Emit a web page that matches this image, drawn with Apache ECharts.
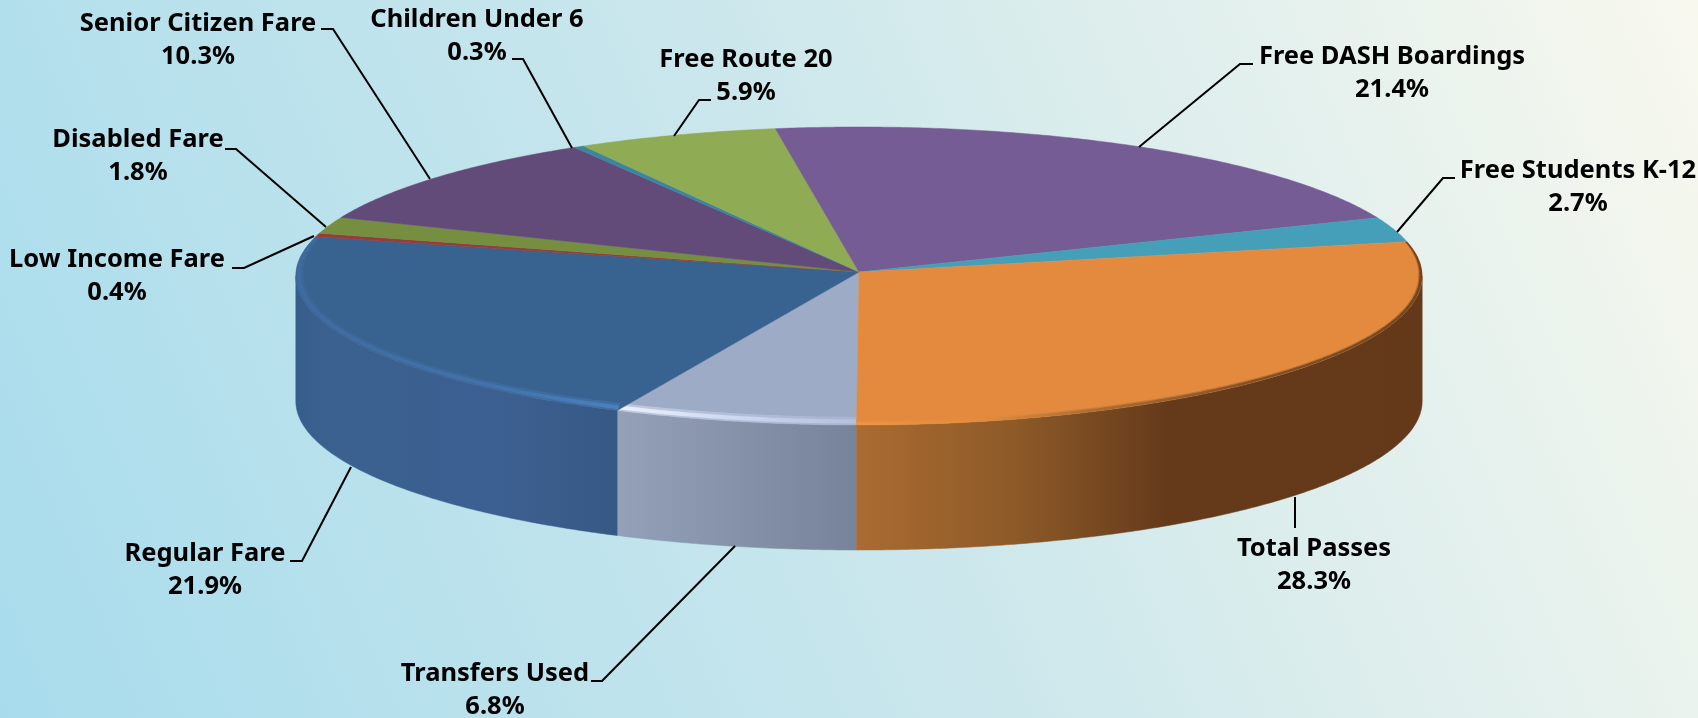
<!DOCTYPE html>
<html><head><meta charset="utf-8">
<style>html,body{margin:0;padding:0;background:#fff}#c{width:1698px;height:718px}</style>
<script src="https://cdn.jsdelivr.net/npm/echarts@6/dist/echarts.min.js"></script></head>
<body><div id="c"></div>
<script>
// ---- data, clockwise from the front of the pie ----
const categories = ['Transfers Used','Regular Fare','Low Income Fare','Disabled Fare','Senior Citizen Fare','Children Under 6','Free Route 20','Free DASH Boardings','Free Students K-12','Total Passes'];
const shares = [6.8,21.9,0.4,1.8,10.3,0.3,5.9,21.4,2.7,28.3];

// ---- styles ----
const topColors = ['#9dabc6','#38628f','#953d3a','#758e40','#624a79','#3c84a0','#8fab54','#765c94','#469fb8','#e38a3f'];
const G = (x,x2,stops)=>new echarts.graphic.LinearGradient(x,0,x2,0,stops.map(c=>({offset:c[0],color:c[1]})),true);
const sideFills = {
  0:()=>G(621,857,[[0,'#93a0b8'],[1,'#77839a']]),
  1:()=>G(296,621,[[0,'#375e8b'],[0.12,'#3a6190'],[0.68,'#3c5f90'],[1,'#355884']]),
  9:()=>G(857,1421,[[0,'#ab6b31'],[0.28,'#8d5a28'],[0.55,'#653a1b'],[1,'#63391a']])
};
const bevelFills = {
  0:()=>G(621,857,[[0,'#f0f4ff'],[0.5,'#cfdaf4'],[1,'#b4c1de']]),
  1:()=>G(296,621,[[0,'#3f6ca0'],[0.6,'#4473ae'],[1,'#4c82c2']]),
  9:()=>G(857,1421,[[0,'#f09444'],[0.22,'#e48b3f'],[0.42,'#a86c32'],[0.7,'#7d4e24'],[1,'#6b401e']])
};
// ---- layout: a tilted disc seen in slight perspective ----
const pie = {cx:859,apexY:272,rx:563,ry:148.9,persp:0.0268,depth:125,start:0.25};
const bevelOuter = {0:1.5,1:1.5,9:0};
const bevelWidth = {0:1,1:1,9:0.5};
const bevelLayers = [{o:0,i:8,op:0.4},{o:1,i:5.5,op:0.9}];
const labelPos = [[495,674],[205,554],[117,260],[138,140],[198,24],[477,20],[746,60],[1392,57],[1578,171],[1314,549]];
const labelGap = 32.5;
const leaders = [
 [[591,681],[602,681],[735,546]],
 [[290,561],[302,561],[351,467]],
 [[232,268],[244,268],[314,236]],
 [[225,149],[236,149],[326,227]],
 [[321,29],[333,29],[430,179]],
 [[512,59],[523,59],[572,148]],
 [[711,100],[699,100],[674,136]],
 [[1253,64],[1240,64],[1139,147]],
 [[1455,178],[1443,178],[1397,232]],
 [[1295,528],[1295,497]]
];
const total = shares.reduce((a,b)=>a+b,0);
const rad = d=>d*Math.PI/180;
const rimPt = (t,dx,dy,drop)=>{
  const u=Math.sin(rad(t)),v=Math.cos(rad(t)),w=1-pie.persp*v;
  return [pie.cx-(pie.rx-dx)*u/w, pie.apexY+(pie.ry-dy)*v/w+(drop||0)];
};
const wallLimit = Math.acos(pie.persp)*180/Math.PI;
function range(a,b){const n=Math.max(2,Math.ceil((b-a)/0.5)+1),o=[];for(let i=0;i<n;i++)o.push(a+(b-a)*i/(n-1));return o;}

function renderItem(params,api){
  const i=params.dataIndex;
  let a=pie.start;for(let k=0;k<i;k++)a+=shares[k]/total*360;
  let b=a+api.value(0)/total*360;
  if(a>180){a-=360;b-=360;}
  const kids=[];
  const va=Math.max(a,-wallLimit),vb=Math.min(b,wallLimit);
  if(vb>va && sideFills[i]){
    const top=range(va,vb).map(t=>rimPt(t,0,0));
    const bot=range(va,vb).reverse().map(t=>rimPt(t,0,0,pie.depth));
    const fill=sideFills[i]();
    kids.push({type:'polygon',shape:{points:top.concat(bot)},style:{fill:fill,stroke:fill,lineWidth:0.5}});
  }
  const pts=[[pie.cx,pie.apexY]].concat(range(a,b).map(t=>rimPt(t,0,0)));
  kids.push({type:'polygon',shape:{points:pts},style:{fill:topColors[i],stroke:topColors[i],lineWidth:0.5}});
  if(bevelFills[i]){
    const k=t=>Math.min(1,Math.max(0,(118-Math.abs(t))/30));
    const th=range(a,b);
    bevelLayers.forEach(l=>{
      const o=l.o*bevelOuter[i],w=l.i*bevelWidth[i];
      const outer=th.map(t=>rimPt(t,o*k(t),o*k(t)));
      const inner=th.slice().reverse().map(t=>rimPt(t,w*k(t),w*k(t)));
      kids.push({type:'polygon',shape:{points:outer.concat(inner)},style:{fill:bevelFills[i](),opacity:l.op}});
    });
  }
  kids.push({type:'polyline',shape:{points:leaders[i]},style:{stroke:'#000',lineWidth:2,fill:null},z2:5});
  kids.push({type:'text',x:labelPos[i][0],y:labelPos[i][1]+labelGap/2,z2:6,style:{
    text:categories[i]+'\n'+api.value(0).toFixed(1)+'%',align:'center',verticalAlign:'middle',
    font:'bold 25.5px "Noto Sans", Lato, sans-serif',fill:'#000',lineHeight:labelGap}});
  return {type:'group',children:kids};
}

const chart=echarts.init(document.getElementById('c'),null,{renderer:'canvas'});
chart.setOption({
  animation:false,
  backgroundColor:new echarts.graphic.LinearGradient(0,1,1,0,[
    {offset:0,color:'#a8dcec'},{offset:0.5,color:'#cbe7ec'},{offset:1,color:'#f8f8ee'}]),
  series:[{type:'custom',coordinateSystem:'none',name:'Boardings by fare type',
    renderItem:renderItem,data:shares.map((v,i)=>({name:categories[i],value:[v]}))}]
});
</script></body></html>
